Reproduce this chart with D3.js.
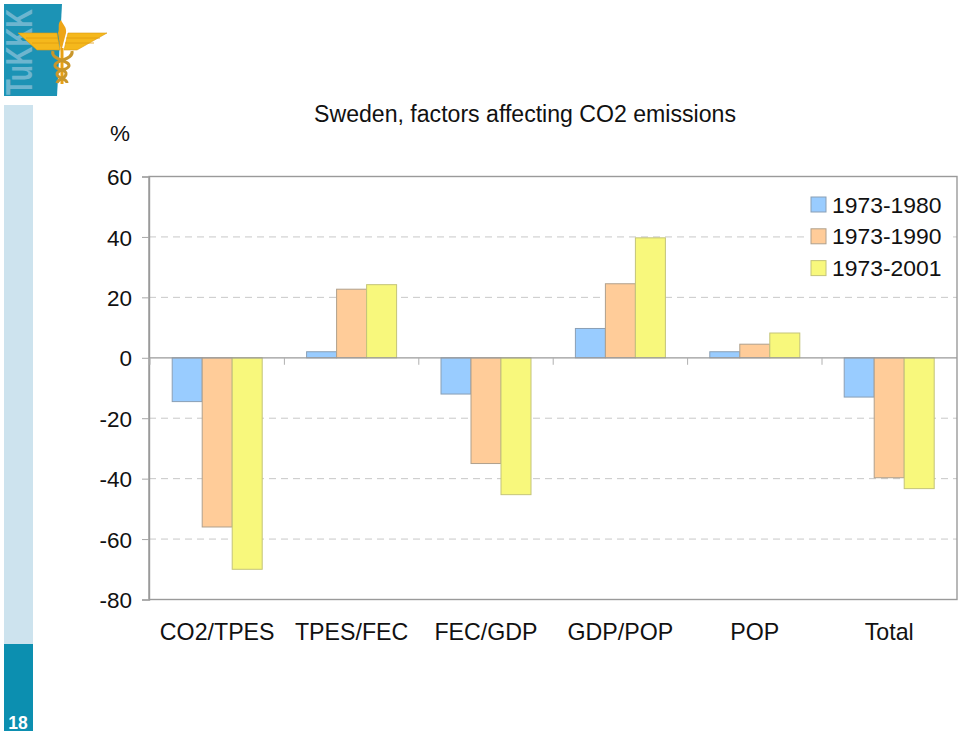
<!DOCTYPE html>
<html><head><meta charset="utf-8">
<script src="https://cdn.jsdelivr.net/npm/d3@7"></script>
<style>html,body{margin:0;padding:0;background:#fff}svg{display:block}text{font-family:"Liberation Sans",Arial,sans-serif;fill:#111}</style>
</head><body><div id="c"></div>
<script>
const categories=["CO2/TPES","TPES/FEC","FEC/GDP","GDP/POP","POP","Total"];
const seriesNames=["1973-1980","1973-1990","1973-2001"];
const v1980=[-14.5,2,-12,9.7,2,-13];
const v1990=[-56,22.7,-35,24.5,4.5,-39.7];
const v2001=[-70,24.2,-45.3,39.7,8.2,-43.3];
const yTicks=[60,40,20,0,-20,-40,-60,-80];
const colors=["#99ccff","#ffcc99","#f8f87c"];
const strokes=["#8a9fb5","#b0a08c","#c4c47a"];
const titleText="Sweden, factors affecting CO2 emissions";
const unitText="%";
const pageNumber="18";

const svg=d3.select("#c").append("svg").attr("width",960).attr("height",735);
const L=149,R=957,T=176.5,B=599.5;
const x0=d3.scaleBand().domain(categories).range([150,956.4]);
const x1=d3.scaleBand().domain(seriesNames).range([22.2,112.2]);
const y=d3.scaleLinear().domain([-80,60]).range([B,T]);

// Side bar
svg.append("rect").attr("x",4).attr("y",105).attr("width",29).attr("height",540).attr("fill","#cde3ee");
svg.append("rect").attr("x",4).attr("y",644).attr("width",29).attr("height",87).attr("fill","#0c8fb0");
svg.append("text").text(pageNumber).attr("x",18).attr("y",728.5).attr("text-anchor","middle")
  .style("font-size","17.5px").style("font-weight","bold").style("fill","#fff");

// Logo
const logo=svg.append("g");
logo.append("path").attr("d","M4 4H62L57 96H4Z").attr("fill","#1c93b5");
logo.append("text").text("TuKKK").attr("transform","translate(32,95) rotate(-90) scale(1,1.45)")
  .style("font-size","26px").style("font-weight","bold").style("fill","#6db5cf");
logo.append("path").attr("d","M18 33H57L60 50H37ZM107 33H68L64 50H77Z").attr("fill","#f5b81c").attr("stroke","#dc9a10").attr("stroke-width",.6);
logo.append("path").attr("d","M26 38H58M32 43H59M100 38H66M94 43H65").attr("stroke","#e09c10").attr("stroke-width",.8).attr("fill","none");
logo.append("path").attr("d","M61 20C57 24 60 28 58 33L61 52L66 33C67 27 63 25 61 20Z").attr("fill","#eea516");
logo.append("path").attr("d","M62 48V84").attr("stroke","#e8a014").attr("stroke-width",3);
logo.append("path").attr("d","M53 51C50 60 70 60 69 66C67 71 57 69 57 74C57 79 67 78 67 83M72 51C74 60 54 60 55 66C57 71 67 69 66 74C66 79 58 78 57 83")
  .attr("fill","none").attr("stroke","#c9962a").attr("stroke-width",3);

// Grid
svg.append("g").selectAll("line").data(yTicks.filter(d=>d!==0&&d!==60&&d!==-80)).join("line")
  .attr("x1",L).attr("x2",R).attr("y1",d=>y(d)).attr("y2",d=>y(d))
  .attr("stroke","#c8c8c8").attr("stroke-width",1).attr("stroke-dasharray","7 5");

// Frame
svg.append("rect").attr("x",L).attr("y",T).attr("width",R-L).attr("height",B-T)
  .attr("fill","none").attr("stroke","#9a9a9a").attr("stroke-width",1.4);

// Bars
const series=[v1980,v1990,v2001];
series.forEach((vals,i)=>{
  svg.append("g").selectAll("rect").data(vals).join("rect")
    .attr("x",(d,j)=>x0(categories[j])+x1(seriesNames[i]))
    .attr("width",x1.bandwidth())
    .attr("y",d=>Math.min(y(d),y(0)))
    .attr("height",d=>Math.abs(y(d)-y(0)))
    .attr("fill",colors[i]).attr("stroke",strokes[i]).attr("stroke-width",1);
});

// Axes
const yAxis=d3.axisLeft(y).tickValues(yTicks).tickSize(7).tickPadding(10).tickFormat(d=>String(d));
const gy=svg.append("g").attr("transform",`translate(${L},0)`).call(yAxis);
gy.select(".domain").attr("stroke","#9a9a9a").attr("stroke-width",1.4);
gy.selectAll(".tick line").attr("stroke","#a8a8a8");
gy.selectAll("text").style("font-size","22.5px").style("fill","#111").attr("dy","0.36em");

const gx=svg.append("g").attr("transform",`translate(0,${y(0)})`);
gx.append("line").attr("x1",L).attr("x2",R).attr("stroke","#9a9a9a").attr("stroke-width",1.2);
gx.selectAll(".t").data(d3.range(categories.length)).join("line").attr("class","t")
  .attr("x1",d=>150+d*x0.step()).attr("x2",d=>150+d*x0.step()).attr("y1",0).attr("y2",7)
  .attr("stroke","#b0b0b0");

svg.append("g").selectAll("text").data(categories).join("text").text(d=>d)
  .attr("x",d=>x0(d)+x0.bandwidth()/2).attr("y",640).attr("text-anchor","middle").style("font-size","23.2px");

// Titles
svg.append("text").text(titleText).attr("x",525).attr("y",122).attr("text-anchor","middle").style("font-size","23.1px");
svg.append("text").text(unitText).attr("x",120).attr("y",141).attr("text-anchor","middle").style("font-size","22.5px");

// Legend
svg.append("rect").attr("x",805).attr("y",190).attr("width",145).attr("height",92).attr("fill","#fff");
const lg=svg.append("g").selectAll("g").data(seriesNames).join("g")
  .attr("transform",(d,i)=>`translate(811,${197+i*31.8})`);
lg.append("rect").attr("width",15).attr("height",15).attr("fill",(d,i)=>colors[i]).attr("stroke",(d,i)=>strokes[i]);
lg.append("text").text(d=>d).attr("x",21).attr("y",15.5).style("font-size","22.9px");
</script></body></html>
